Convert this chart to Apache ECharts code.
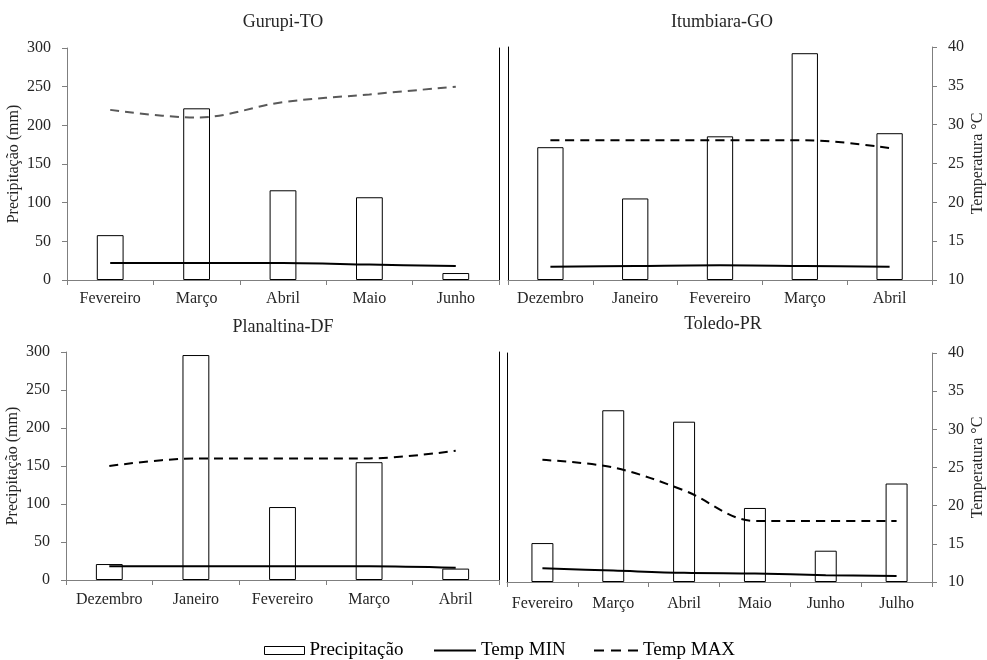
<!DOCTYPE html>
<html>
<head>
<meta charset="utf-8">
<script src="https://cdn.jsdelivr.net/npm/echarts@6/dist/echarts.min.js"></script>
<style>
html,body{margin:0;padding:0;background:#fff;}
#chart{width:987px;height:660px;}
</style>
</head>
<body>
<div id="chart"></div>
<script>
// ---- Data ----
const titles = ['Gurupi-TO', 'Itumbiara-GO', 'Planaltina-DF', 'Toledo-PR'];

const gurupiMonths = ['Fevereiro', 'Março', 'Abril', 'Maio', 'Junho'];
const gurupiPrecip = [58, 222, 116, 107, 9];
const gurupiTmin = [12.2, 12.2, 12.2, 12.0, 11.8];
const gurupiTmax = [32, 31, 33, 34, 35];

const itumbiaraMonths = ['Dezembro', 'Janeiro', 'Fevereiro', 'Março', 'Abril'];
const itumbiaraPrecip = [171, 105, 185, 292, 189];
const itumbiaraTmin = [11.7, 11.8, 11.9, 11.8, 11.7];
const itumbiaraTmax = [28, 28, 28, 28, 27];

const planaltinaMonths = ['Dezembro', 'Janeiro', 'Fevereiro', 'Março', 'Abril'];
const planaltinaPrecip = [21, 296, 96, 155, 15];
const planaltinaTmin = [11.8, 11.8, 11.8, 11.8, 11.6];
const planaltinaTmax = [25, 26, 26, 26, 27];

const toledoMonths = ['Fevereiro', 'Março', 'Abril', 'Maio', 'Junho', 'Julho'];
const toledoPrecip = [51, 225, 210, 97, 41, 129];
const toledoTmin = [11.8, 11.5, 11.2, 11.1, 10.9, 10.8];
const toledoTmax = [26, 25, 22, 18, 18, 18];

const precipTicks = {min: 0, max: 300, interval: 50};
const tempTicks = {min: 10, max: 40, interval: 5};

const legendNames = ['Precipitação', 'Temp MIN', 'Temp MAX'];
const leftAxisName = 'Precipitação (mm)';
const rightAxisName = 'Temperatura °C';

// ---- Build ----
const FONT = '"Liberation Serif", "Times New Roman", serif';
const AXIS_COLOR = '#7f7f7f';
const TEXT_COLOR = '#262626';

const panels = [
  {months: gurupiMonths, precip: gurupiPrecip, tmin: gurupiTmin, tmax: gurupiTmax,
   grid: {left: 67, top: 48, width: 432, height: 232}, side: 'left', maxColor: '#595959',
   title: {x: 278, y: 8}, xMargin: 11},
  {months: itumbiaraMonths, precip: itumbiaraPrecip, tmin: itumbiaraTmin, tmax: itumbiaraTmax,
   grid: {left: 508, top: 47, width: 427, height: 233}, side: 'right', maxColor: '#000',
   title: {x: 717, y: 8}, xMargin: 11},
  {months: planaltinaMonths, precip: planaltinaPrecip, tmin: planaltinaTmin, tmax: planaltinaTmax,
   grid: {left: 66, top: 352, width: 433, height: 228}, side: 'left', maxColor: '#000',
   title: {x: 278, y: 313}, xMargin: 12},
  {months: toledoMonths, precip: toledoPrecip, tmin: toledoTmin, tmax: toledoTmax,
   grid: {left: 507, top: 353, width: 431, height: 229}, side: 'right', maxColor: '#000',
   title: {x: 718, y: 310}, xMargin: 14}
];

const option = {
  animation: false,
  backgroundColor: '#fff',
  textStyle: {fontFamily: FONT},
  title: [], grid: [], xAxis: [], yAxis: [], series: [], legend: []
};

panels.forEach((p, i) => {
  option.title.push({
    text: titles[i], left: p.title.x, top: p.title.y, textAlign: 'center',
    textStyle: {fontFamily: FONT, fontSize: 18, fontWeight: 'normal', color: TEXT_COLOR}
  });
  option.grid.push(Object.assign({containLabel: false}, p.grid));
  option.xAxis.push({
    type: 'category', gridIndex: i, data: p.months, boundaryGap: true,
    axisLine: {lineStyle: {color: AXIS_COLOR, width: 1}},
    axisTick: {show: true, length: 5, inside: false, lineStyle: {color: AXIS_COLOR}},
    axisLabel: {fontFamily: FONT, fontSize: 16, color: TEXT_COLOR, margin: p.xMargin, interval: 0},
    splitLine: {show: false}
  });
  const isLeft = p.side === 'left';
  // precipitation axis (left)
  option.yAxis.push({
    type: 'value', gridIndex: i, position: 'left',
    min: precipTicks.min, max: precipTicks.max, interval: precipTicks.interval,
    name: isLeft ? leftAxisName : '', nameLocation: 'middle', nameGap: 45, nameRotate: 90,
    nameTextStyle: {fontFamily: FONT, fontSize: 16, color: TEXT_COLOR},
    axisLine: {show: true, lineStyle: {color: isLeft ? AXIS_COLOR : '#000'}},
    axisTick: {show: isLeft, length: 5, lineStyle: {color: AXIS_COLOR}},
    axisLabel: {show: isLeft, fontFamily: FONT, fontSize: 16, color: TEXT_COLOR, margin: 16},
    splitLine: {show: false}
  });
  // temperature axis (right)
  option.yAxis.push({
    type: 'value', gridIndex: i, position: 'right',
    min: tempTicks.min, max: tempTicks.max, interval: tempTicks.interval,
    name: isLeft ? '' : rightAxisName, nameLocation: 'middle', nameGap: 38, nameRotate: 90,
    nameTextStyle: {fontFamily: FONT, fontSize: 16, color: TEXT_COLOR},
    axisLine: {show: true, lineStyle: {color: isLeft ? '#000' : AXIS_COLOR}},
    axisTick: {show: !isLeft, length: 5, lineStyle: {color: AXIS_COLOR}},
    axisLabel: {show: !isLeft, fontFamily: FONT, fontSize: 16, color: TEXT_COLOR, margin: 16},
    splitLine: {show: false}
  });
  option.series.push({
    name: legendNames[0], type: 'bar', xAxisIndex: i, yAxisIndex: 2 * i,
    data: p.precip, barWidth: '31%',
    itemStyle: {color: '#fff', borderColor: '#000', borderWidth: 1}, z: 2
  });
  option.series.push({
    name: legendNames[1], type: 'line', xAxisIndex: i, yAxisIndex: 2 * i + 1,
    data: p.tmin, smooth: 0.35, symbol: 'none',
    lineStyle: {color: '#000', width: 2, type: 'solid'}, itemStyle: {color: '#000'}, z: 3
  });
  option.series.push({
    name: legendNames[2], type: 'line', xAxisIndex: i, yAxisIndex: 2 * i + 1,
    data: p.tmax, smooth: 0.35, symbol: 'none',
    lineStyle: {color: p.maxColor, width: 2, type: [9, 6]}, itemStyle: {color: p.maxColor}, z: 3
  });
});

const legendText = {fontFamily: FONT, fontSize: 19, color: '#000'};
option.legend.push({
  data: [legendNames[0]], left: 259, top: 636, itemWidth: 40, itemHeight: 8,
  icon: 'rect', selectedMode: false, textStyle: legendText,
  itemStyle: {color: '#fff', borderColor: '#000', borderWidth: 1}
});
option.legend.push({
  data: [legendNames[1]], left: 428, top: 636, itemWidth: 42, itemHeight: 8,
  selectedMode: false, textStyle: legendText,
  itemStyle: {opacity: 0}, lineStyle: {color: '#000', width: 2, type: 'solid'}
});
option.legend.push({
  data: [legendNames[2]], left: 588, top: 636, itemWidth: 44, itemHeight: 8,
  selectedMode: false, textStyle: legendText,
  itemStyle: {opacity: 0}, lineStyle: {color: '#000', width: 2, type: [10, 7]}
});

const chart = echarts.init(document.getElementById('chart'), null, {renderer: 'canvas'});
chart.setOption(option);
</script>
</body>
</html>
